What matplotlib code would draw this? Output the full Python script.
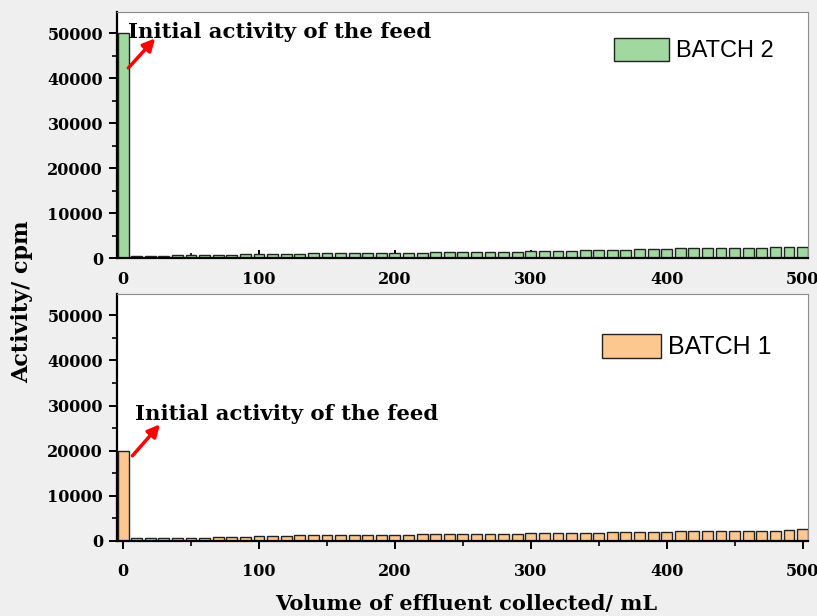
import numpy as np
import matplotlib
matplotlib.use("Agg")
import matplotlib.pyplot as plt

### Data.
volume = np.arange(0, 501, 10)  # mL of effluent collected

batch2 = [50000,
          450, 500, 550, 600, 750, 750, 800, 800, 850,
          950, 1000, 1000, 1000, 1050, 1050, 1100, 1100, 1100, 1150,
          1150, 1200, 1200, 1250, 1300, 1300, 1350, 1350, 1400, 1450,
          1500, 1550, 1600, 1650, 1700, 1750, 1800, 1900, 1950, 2000,
          2100, 2200, 2250, 2250, 2300, 2300, 2350, 2350, 2400, 2400,
          2500]

batch1 = [20000,
          550, 600, 600, 650, 700, 750, 800, 850, 950,
          1150, 1200, 1200, 1250, 1250, 1250, 1300, 1300, 1350, 1350,
          1400, 1400, 1450, 1450, 1500, 1500, 1550, 1600, 1600, 1650,
          1700, 1700, 1750, 1800, 1800, 1850, 1900, 1950, 1950, 2000,
          2050, 2100, 2150, 2200, 2200, 2250, 2250, 2300, 2300, 2350,
          2600]

green = "#a0d8a0"
peach = "#fcc890"

serif = ["DejaVu Serif"]

fig = plt.figure(figsize=(8.17, 6.16), dpi=100, facecolor="#efefef")
ax_top = fig.add_axes([0.1432, 0.581, 0.8458, 0.3995])
ax_bot = fig.add_axes([0.1432, 0.1218, 0.8458, 0.4009])


def style_axes(ax, tick_dir, xpad):
    ax.set_xlim(-4.5, 504)
    ax.set_ylim(0, 54700)
    ax.set_facecolor("white")
    ax.set_xticks([0, 100, 200, 300, 400, 500])
    ax.set_xticks(np.arange(50, 501, 100), minor=True)
    ax.set_yticks([0, 10000, 20000, 30000, 40000, 50000])
    ax.set_yticks(np.arange(5000, 50001, 10000), minor=True)
    for side in ["top", "right"]:
        ax.spines[side].set_color("0.55")
        ax.spines[side].set_linewidth(0.8)
    for side in ["left", "bottom"]:
        ax.spines[side].set_color("black")
        ax.spines[side].set_linewidth(1.6)
    ax.tick_params(axis="y", which="major", direction="out", length=6, width=1.4, pad=4)
    ax.tick_params(axis="y", which="minor", direction="out", length=3.5, width=1.2)
    ax.tick_params(axis="x", which="major", direction=tick_dir, length=6, width=1.4, pad=xpad)
    ax.tick_params(axis="x", which="minor", direction=tick_dir, length=3.5, width=1.2)
    ax.tick_params(axis="both", labelsize=11.5)
    for lab in ax.get_xticklabels() + ax.get_yticklabels():
        lab.set_family(serif)
        lab.set_fontweight("bold")


def white_legend(ax, anchor, size, hlen, hhei):
    leg = ax.legend(loc="upper right", bbox_to_anchor=anchor, frameon=True, fancybox=False,
                    prop={"family": "Liberation Sans", "size": size}, handlelength=hlen,
                    handleheight=hhei, handletextpad=0.3, borderpad=0.2, borderaxespad=0)
    leg.get_frame().set_edgecolor("white")
    leg.get_frame().set_facecolor("white")
    leg.get_frame().set_alpha(1)


### Top panel: batch 2
ax_top.bar(volume, batch2, width=8, color=green, edgecolor="#222222", linewidth=1.0,
           label="BATCH 2", zorder=2)
style_axes(ax_top, "in", 9)
ax_top.annotate("", xy=(25, 49300), xytext=(2.5, 41800),
                arrowprops=dict(arrowstyle="-|>", color="red", lw=2.5, mutation_scale=18))
ax_top.text(3.5, 48900, "Initial activity of the feed", family=serif, fontweight="bold",
            fontsize=15.3, va="baseline", ha="left")
white_legend(ax_top, (0.957, 0.915), 17, 2.3, 1.15)

### Bottom panel: batch 1
ax_bot.bar(volume, batch1, width=8, color=peach, edgecolor="#222222", linewidth=1.0,
           label="BATCH 1", zorder=2)
style_axes(ax_bot, "out", 10)
ax_bot.annotate("", xy=(28.5, 26300), xytext=(5.5, 18400),
                arrowprops=dict(arrowstyle="-|>", color="red", lw=2.5, mutation_scale=18))
ax_bot.text(8.5, 26700, "Initial activity of the feed", family=serif, fontweight="bold",
            fontsize=15.3, va="baseline", ha="left")
white_legend(ax_bot, (0.955, 0.86), 18, 2.35, 1.12)

### Shared axis labels
fig.text(0.027, 0.51, "Activity/ cpm", rotation=90, family=serif, fontweight="bold",
         fontsize=16, ha="center", va="center")
fig.text(0.57, 0.02, "Volume of effluent collected/ mL", family=serif, fontweight="bold",
         fontsize=15, ha="center", va="center")

fig.savefig("out.png", dpi=100, facecolor=fig.get_facecolor())
